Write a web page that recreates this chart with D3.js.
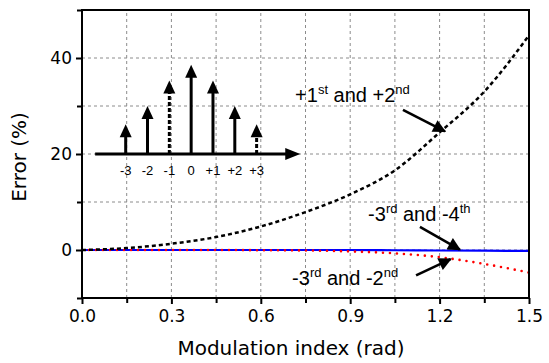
<!DOCTYPE html>
<html>
<head>
<meta charset="utf-8">
<script src="https://cdn.jsdelivr.net/npm/d3@7"></script>
<style>
  body { margin: 0; background: #fff; }
  svg { display: block; }
</style>
</head>
<body>
<div id="chart"></div>
<script>
// modulation index (rad) and error (%)
const modIndex = [0, 0.15, 0.3, 0.45, 0.6, 0.75, 0.9, 1.05, 1.2, 1.35, 1.5];
const errPlus1Plus2 = [0, 0.4, 1.3, 2.7, 4.9, 7.9, 11.6, 16.6, 24.5, 33.0, 44.7];
const errMinus3Minus4 = [0, 0, 0, 0, 0, 0, 0, -0.05, -0.1, -0.15, -0.2];
const errMinus3Minus2 = [0, 0, 0, 0, -0.05, -0.1, -0.3, -0.7, -1.5, -2.9, -4.7];

const xTicks = [0, 0.3, 0.6, 0.9, 1.2, 1.5];
const xMinor = [0.15, 0.45, 0.75, 1.05, 1.35];
const yTicks = [0, 20, 40];
const yMinor = [-10, 10, 30, 50];

// inset spectrum (sideband orders, tip heights in the y units of the chart)
const orders = [-3, -2, -1, 0, 1, 2, 3];
const orderLabels = ["-3", "-2", "-1", "0", "+1", "+2", "+3"];
const tipHeights = [26.2, 30, 35.3, 38.6, 35.3, 30, 26.2];
const dashedStem = [false, false, true, false, false, false, true];

// annotations: text parts [normal, sup, normal, sup], position, arrow start/end in data units
const annotations = [
  { parts: ["+1", "st", " and +2", "nd"], x: 0.715, y: 30.9, from: [1.077, 29.2], to: [1.218, 24.7] },
  { parts: ["-3", "rd", " and -4", "th"], x: 0.96, y: 6.1, from: [1.134, 4.8], to: [1.268, 0.1] },
  { parts: ["-3", "rd", " and -2", "nd"], x: 0.705, y: -7.2, from: [1.121, -5.3], to: [1.237, -1.9] }
];

const width = 549, height = 363;
const margin = { left: 82, right: 20, top: 10, bottom: 65 };

const x = d3.scaleLinear().domain([0, 1.5]).range([margin.left, width - margin.right]);
const y = d3.scaleLinear().domain([-10, 50]).range([height - margin.bottom, margin.top]);

const svg = d3.select("#chart").append("svg")
  .attr("width", width)
  .attr("height", height);

svg.append("defs").append("marker")
  .attr("id", "head")
  .attr("viewBox", "0 0 10 10")
  .attr("refX", 9).attr("refY", 5)
  .attr("markerWidth", 5.5).attr("markerHeight", 5)
  .attr("markerUnits", "strokeWidth")
  .attr("orient", "auto")
  .append("path")
  .attr("d", "M0,0 L10,5 L0,10 Z")
  .attr("fill", "#000");

// grid
const grid = svg.append("g");
xTicks.concat(xMinor).filter(d => d > 0 && d < 1.5).forEach(d => {
  grid.append("line")
    .attr("x1", x(d)).attr("x2", x(d))
    .attr("y1", y(-10)).attr("y2", y(50))
    .attr("stroke", "#8c8c8c").attr("stroke-width", 1)
    .attr("stroke-dasharray", "3,3");
});
[0, 10, 20, 30, 40].forEach(d => {
  grid.append("line")
    .attr("x1", x(0)).attr("x2", x(1.5))
    .attr("y1", y(d)).attr("y2", y(d))
    .attr("stroke", "#8c8c8c").attr("stroke-width", 1)
    .attr("stroke-dasharray", "3,3");
});

// curves
const line = d3.line()
  .x((d, i) => x(modIndex[i]))
  .y(d => y(d))
  .curve(d3.curveMonotoneX);

svg.append("path")
  .datum(errMinus3Minus4)
  .attr("d", line)
  .attr("fill", "none")
  .attr("stroke", "#0000ff")
  .attr("stroke-width", 2.2);

svg.append("path")
  .datum(errMinus3Minus2)
  .attr("d", line)
  .attr("fill", "none")
  .attr("stroke", "#ff0000")
  .attr("stroke-width", 2.6)
  .attr("stroke-linecap", "round")
  .attr("stroke-dasharray", "0,7");

svg.append("path")
  .datum(errPlus1Plus2)
  .attr("d", line)
  .attr("fill", "none")
  .attr("stroke", "#000")
  .attr("stroke-width", 2.5)
  .attr("stroke-dasharray", "4,3");

// axes
const xAxis = d3.axisBottom(x).tickValues(xTicks).tickFormat(d3.format(".1f")).tickSize(6).tickPadding(6);
const xAxisMinor = d3.axisBottom(x).tickValues(xMinor).tickFormat("").tickSize(5);
const yAxis = d3.axisLeft(y).tickValues(yTicks).tickFormat(d3.format("d")).tickSize(6).tickPadding(4);
const yAxisMinor = d3.axisLeft(y).tickValues(yMinor).tickFormat("").tickSize(5);

function styleAxis(g) {
  g.select(".domain").remove();
  g.selectAll(".tick line").attr("stroke", "#000").attr("stroke-width", 2);
  g.selectAll(".tick text")
    .attr("fill", "#000")
    .attr("font-family", "DejaVu Sans, sans-serif")
    .attr("font-size", "17px");
}

svg.append("g").attr("transform", `translate(0,${y(-10)})`).call(xAxis).call(styleAxis);
svg.append("g").attr("transform", `translate(0,${y(-10)})`).call(xAxisMinor).call(styleAxis);
svg.append("g").attr("transform", `translate(${x(0)},0)`).call(yAxis).call(styleAxis);
svg.append("g").attr("transform", `translate(${x(0)},0)`).call(yAxisMinor).call(styleAxis);

// frame
svg.append("rect")
  .attr("x", x(0)).attr("y", y(50))
  .attr("width", x(1.5) - x(0))
  .attr("height", y(-10) - y(50))
  .attr("fill", "none")
  .attr("stroke", "#000")
  .attr("stroke-width", 2);

// axis titles
svg.append("text")
  .attr("x", 291).attr("y", 355)
  .attr("text-anchor", "middle")
  .attr("font-family", "DejaVu Sans, sans-serif")
  .attr("font-size", "20px")
  .text("Modulation index (rad)");

svg.append("text")
  .attr("transform", `translate(26,${(y(-10) + y(50)) / 2 + 3}) rotate(-90)`)
  .attr("text-anchor", "middle")
  .attr("font-family", "DejaVu Sans, sans-serif")
  .attr("font-size", "20px")
  .text("Error (%)");

// inset spectrum
const ox = d3.scaleLinear().domain([-3, 3]).range([x(0.1466), x(0.586)]);
const inset = svg.append("g");
const baseY = y(20);

inset.append("line")
  .attr("x1", ox(-4.4)).attr("x2", ox(4.4))
  .attr("y1", baseY).attr("y2", baseY)
  .attr("stroke", "#000").attr("stroke-width", 3);
inset.append("path")
  .attr("d", `M${ox(5.0)},${baseY} L${ox(5.0) - 15},${baseY - 6} L${ox(5.0) - 15},${baseY + 6} Z`)
  .attr("fill", "#000");

orders.forEach((o, i) => {
  const tip = y(tipHeights[i]);
  inset.append("line")
    .attr("x1", ox(o)).attr("x2", ox(o))
    .attr("y1", baseY).attr("y2", tip + 10)
    .attr("stroke", "#000").attr("stroke-width", 3)
    .attr("stroke-dasharray", dashedStem[i] ? "4,2" : null);
  inset.append("path")
    .attr("d", `M${ox(o)},${tip} L${ox(o) - 6},${tip + 13} L${ox(o) + 6},${tip + 13} Z`)
    .attr("fill", "#000");
  inset.append("text")
    .attr("x", ox(o)).attr("y", y(15.6))
    .attr("text-anchor", "middle")
    .attr("font-family", "Liberation Sans, Arial, sans-serif")
    .attr("font-size", "13px")
    .text(orderLabels[i]);
});

// annotations
annotations.forEach(a => {
  const t = svg.append("text")
    .attr("x", x(a.x)).attr("y", y(a.y))
    .attr("font-family", "Liberation Sans, Arial, sans-serif")
    .attr("font-size", "20px");
  a.parts.forEach((p, i) => {
    const sup = i % 2 === 1;
    t.append("tspan")
      .attr("font-size", sup ? "13px" : "20px")
      .attr("dy", sup ? "-8" : (i > 0 ? "8" : "0"))
      .text(p);
  });
  svg.append("line")
    .attr("x1", x(a.from[0])).attr("y1", y(a.from[1]))
    .attr("x2", x(a.to[0])).attr("y2", y(a.to[1]))
    .attr("stroke", "#000").attr("stroke-width", 2.6)
    .attr("marker-end", "url(#head)");
});
</script>
</body>
</html>
